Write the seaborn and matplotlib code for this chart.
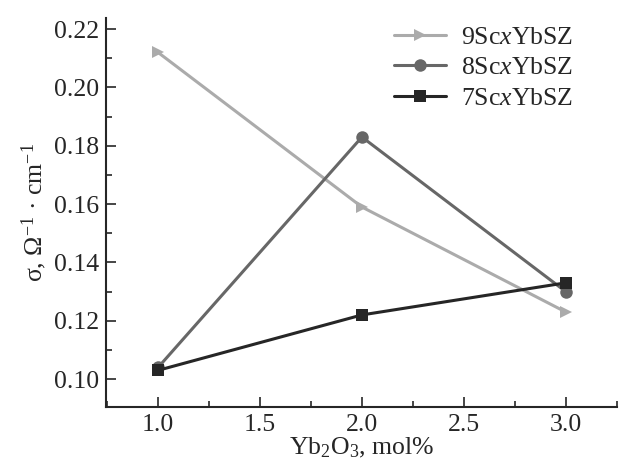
import numpy as np
import pandas as pd
import seaborn as sns
import matplotlib.pyplot as plt
from matplotlib.ticker import MultipleLocator

yb2o3 = [1.0, 2.0, 3.0]
sigma_9 = [0.212, 0.159, 0.123]
sigma_8 = [0.104, 0.183, 0.130]
sigma_7 = [0.103, 0.122, 0.133]
series = ['9Sc$x$YbSZ', '8Sc$x$YbSZ', '7Sc$x$YbSZ']

df = pd.DataFrame({
    'x': yb2o3 * 3,
    'sigma': sigma_9 + sigma_8 + sigma_7,
    'sample': [s for s in series for _ in yb2o3],
})

sns.set_style('ticks')
plt.rcParams['font.family'] = ['Liberation Serif', 'DejaVu Serif']
plt.rcParams['mathtext.fontset'] = 'custom'
plt.rcParams['mathtext.rm'] = 'Liberation Serif'
plt.rcParams['mathtext.it'] = 'Liberation Serif:italic'

fig = plt.figure(figsize=(6.28, 4.75), dpi=100)
ax = fig.add_axes([0.169, 0.143, 0.813, 0.819])

palette = {series[0]: '#ababab', series[1]: '#676767', series[2]: '#262626'}
markers = {series[0]: '>', series[1]: 'o', series[2]: 's'}
sns.lineplot(data=df, x='x', y='sigma', hue='sample', style='sample',
             palette=palette, markers=markers, dashes=False,
             linewidth=2.2, markersize=9, markeredgewidth=0, ax=ax)

ax.set_xlim(0.745, 3.25)
ax.set_ylim(0.0904, 0.2238)
ax.xaxis.set_major_locator(MultipleLocator(0.5))
ax.xaxis.set_minor_locator(MultipleLocator(0.25))
ax.yaxis.set_major_locator(MultipleLocator(0.02))
ax.yaxis.set_minor_locator(MultipleLocator(0.01))
ax.xaxis.set_major_formatter(plt.FormatStrFormatter('%.1f'))
ax.yaxis.set_major_formatter(plt.FormatStrFormatter('%.2f'))
ax.tick_params(which='both', direction='in', labelsize=18.5, width=1.2)
ax.tick_params(which='major', length=7, pad=5)
ax.tick_params(which='minor', length=4)
for s in ['top', 'right']:
    ax.spines[s].set_visible(False)
for s in ['left', 'bottom']:
    ax.spines[s].set_linewidth(1.5)

ax.set_xlabel('Yb$_2$O$_3$, mol%', fontsize=18.5, labelpad=0)
ax.set_ylabel('σ, Ω$^{-1}$ · cm$^{-1}$', fontsize=18.5, labelpad=4)

leg = ax.legend(loc='upper right', frameon=False, fontsize=18.5,
                handlelength=2.0, handletextpad=0.6, labelspacing=0.3,
                bbox_to_anchor=(0.96, 1.04))

plt.savefig('out.png', dpi=100)
